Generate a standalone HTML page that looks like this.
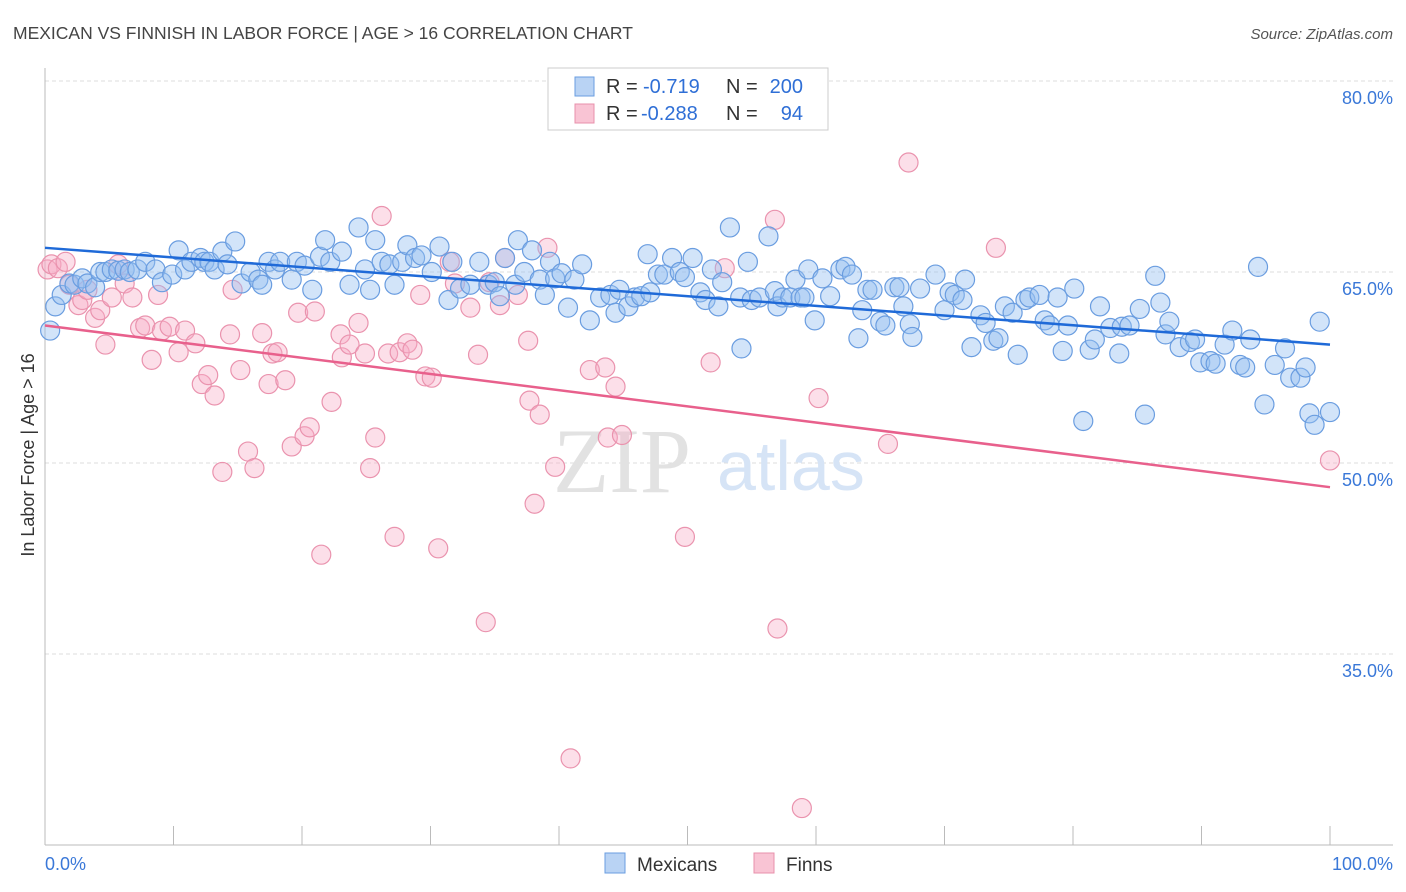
<!DOCTYPE html>
<html><head><meta charset="utf-8"><style>
body{margin:0;background:#fff;font-family:"Liberation Sans",sans-serif;}
svg{display:block}
</style></head><body>
<svg id="chart" width="1406" height="892" viewBox="0 0 1406 892">
<text x="13" y="39" font-size="17.5" fill="#444">MEXICAN VS FINNISH IN LABOR FORCE | AGE &gt; 16 CORRELATION CHART</text>
<text x="1393" y="39" font-size="15" fill="#555" font-style="italic" text-anchor="end">Source: ZipAtlas.com</text>
<g id="grid"></g>
<g>
<text x="553" y="492" font-family="Liberation Serif,serif" font-size="92" fill="#e2e2e2">ZIP</text>
<text x="717" y="490" font-size="70" fill="#d6e4f6">atlas</text>
</g>
<line x1="45" y1="68" x2="45" y2="845" stroke="#bbb"/>
<line x1="45" y1="845" x2="1393" y2="845" stroke="#bbb"/>
<g id="xticks"></g>
<g id="ylabels"></g>
<text transform="translate(34,455) rotate(-90)" font-size="18" fill="#333" text-anchor="middle">In Labor Force | Age &gt; 16</text>
<text x="45" y="870" font-size="18" fill="#3a78d8">0.0%</text>
<text x="1393" y="870" font-size="18" fill="#3a78d8" text-anchor="end">100.0%</text>
<g id="pinkPts"></g>
<g id="bluePts"></g>
<g id="trends"></g>
<g>
<rect x="548" y="68" width="280" height="62" fill="#fff" stroke="#ccc"/>
<rect x="575" y="77" width="19" height="19" fill="#b9d3f4" stroke="#6a9ee0"/>
<rect x="575" y="104" width="19" height="19" fill="#f9c4d4" stroke="#e890ab"/>
<text x="606" y="93" font-size="20" fill="#333">R =</text>
<text x="643" y="93" font-size="20" fill="#2f6fd6">-0.719</text>
<text x="726" y="93" font-size="20" fill="#333">N =</text>
<text x="803" y="93" font-size="20" fill="#2f6fd6" text-anchor="end">200</text>
<text x="606" y="120" font-size="20" fill="#333">R =</text>
<text x="641" y="120" font-size="20" fill="#2f6fd6">-0.288</text>
<text x="726" y="120" font-size="20" fill="#333">N =</text>
<text x="803" y="120" font-size="20" fill="#2f6fd6" text-anchor="end">94</text>
</g>
<g>
<rect x="605" y="853" width="20" height="20" fill="#b9d3f4" stroke="#6a9ee0"/>
<text x="637" y="871" font-size="19" fill="#333">Mexicans</text>
<rect x="754" y="853" width="20" height="20" fill="#f9c4d4" stroke="#e890ab"/>
<text x="786" y="871" font-size="19" fill="#333">Finns</text>
</g>
</svg>
<script>
const yTicks=[80,65,50,35];
const yTickLabels=["80.0%","65.0%","50.0%","35.0%"];
const xTicks=[0,10,20,30,40,50,60,70,80,90,100];
const mexX=[0.4,0.8,1.3,1.9,2.3,2.9,3.3,3.9,4.3,4.7,5.2,5.7,6.2,6.6,7.2,7.8,8.6,9.1,9.9,10.4,10.9,11.4,12.1,12.4,12.8,13.2,13.8,14.2,14.8,15.3,16.0,16.6,16.9,17.4,17.9,18.3,19.2,19.6,20.2,20.8,21.4,21.8,22.2,23.1,23.7,24.4,24.9,25.3,25.7,26.2,26.8,27.2,27.8,28.2,28.8,29.3,30.1,30.7,31.4,31.7,32.3,33.1,33.8,34.5,35.0,35.4,35.8,36.6,36.8,37.3,37.9,38.5,38.9,39.3,39.7,40.2,40.7,41.2,41.8,42.4,43.2,44.0,44.4,44.7,45.4,45.9,46.4,46.9,47.1,47.7,48.2,48.8,49.4,49.8,50.4,51.0,51.4,51.9,52.4,52.7,53.3,54.1,54.2,54.7,55.0,55.6,56.3,56.8,57.0,57.4,58.0,58.4,58.8,59.1,59.4,59.9,60.5,61.1,61.9,62.3,62.8,63.3,63.6,64.0,64.4,65.0,65.4,66.1,66.5,66.8,67.3,67.5,68.1,69.3,70.0,70.4,70.8,71.4,71.6,72.1,72.8,73.2,73.8,74.2,74.7,75.3,75.7,76.3,76.6,77.4,77.8,78.2,78.8,79.2,79.6,80.1,80.8,81.3,81.7,82.1,82.9,83.6,83.8,84.4,85.2,85.6,86.4,86.8,87.2,87.5,88.3,89.1,89.5,89.9,90.7,91.1,91.8,92.4,93.0,93.4,93.8,94.4,94.9,95.7,96.5,96.9,97.7,98.1,98.4,98.8,99.2,100];
const mexY=[60.4,62.3,63.2,64.1,64.0,64.5,64.1,63.8,65.0,65.0,65.2,65.1,65.2,65.0,65.2,65.8,65.2,64.2,64.8,66.7,65.2,65.8,66.1,65.8,65.8,65.2,66.6,65.6,67.4,64.1,65.0,64.4,64.0,65.8,65.2,65.8,64.4,65.8,65.5,63.6,66.2,67.5,65.8,66.6,64.0,68.5,65.2,63.6,67.5,65.8,65.6,64.0,65.8,67.1,66.1,66.3,65.0,67.0,62.8,65.8,63.7,64.0,65.8,64.0,64.2,63.1,66.1,64.0,67.5,65.0,66.7,64.4,63.2,65.8,64.5,64.9,62.2,64.4,65.6,61.2,63.0,63.2,61.8,63.6,62.3,63.0,63.1,66.4,63.4,64.8,64.8,66.1,65.0,64.6,66.1,63.4,62.8,65.2,62.3,64.2,68.5,63.0,59.0,65.8,62.8,63.0,67.8,63.5,62.3,63.0,63.0,64.4,63.0,63.0,65.2,61.2,64.5,63.1,65.2,65.4,64.8,59.8,62.0,63.6,63.6,61.1,60.8,63.8,63.8,62.3,60.9,59.9,63.7,64.8,62.0,63.4,63.2,62.8,64.4,59.1,61.6,61.0,59.6,59.8,62.3,61.8,58.5,62.8,63.0,63.2,61.2,60.8,63.0,58.8,60.8,63.7,53.3,58.9,59.7,62.3,60.6,58.6,60.7,60.8,62.1,53.8,64.7,62.6,60.1,61.1,59.1,59.5,59.7,57.9,58.0,57.8,59.3,60.4,57.7,57.5,59.7,65.4,54.6,57.7,59.0,56.7,56.7,57.5,53.9,53.0,61.1,54.0];
const finX=[0.2,0.5,1.0,1.6,1.9,2.6,2.9,3.3,3.9,4.3,4.7,5.2,5.7,6.2,6.8,7.4,7.8,8.3,8.8,9.1,9.7,10.4,10.9,11.7,12.2,12.7,13.2,13.8,14.4,14.6,15.2,15.8,16.3,16.9,17.4,17.7,18.1,18.7,19.2,19.7,20.2,20.6,21.0,21.5,22.3,23.0,23.1,23.7,24.4,24.9,25.3,25.7,26.2,26.7,27.2,27.6,28.2,28.6,29.2,29.6,30.1,30.6,31.5,31.9,33.1,33.7,34.3,34.6,35.4,35.8,36.8,37.6,37.7,38.1,38.5,39.1,39.7,40.9,42.4,43.6,43.8,44.4,44.9,49.8,51.8,52.9,56.8,57.0,58.9,60.2,65.6,67.2,74.0,100];
const finY=[65.2,65.6,65.3,65.8,64.0,62.4,62.8,63.6,61.4,62.0,59.3,63.0,65.6,64.1,63.0,60.6,60.8,58.1,63.2,60.4,60.7,58.7,60.4,59.4,56.2,56.9,55.3,49.3,60.1,63.6,57.3,50.9,49.6,60.2,56.2,58.6,58.7,56.5,51.3,61.8,52.1,52.8,61.9,42.8,54.8,60.1,58.3,59.3,61.0,58.6,49.6,52.0,69.4,58.6,44.2,58.7,59.4,58.9,63.2,56.8,56.7,43.3,65.8,64.1,62.2,58.5,37.5,64.2,62.4,66.1,63.2,59.6,54.9,46.8,53.8,66.9,49.7,26.8,57.3,57.5,52.0,56.0,52.2,44.2,57.9,65.3,69.1,37.0,22.9,55.1,51.5,73.6,66.9,50.2];
const mexTrend=[66.9,59.3];
const finTrend=[60.8,48.1];

const NS="http://www.w3.org/2000/svg";
const sx=v=>45+v*12.85;
const sy=v=>463-(v-50)*12.733;
function mk(tag,attrs,parent){const e=document.createElementNS(NS,tag);for(const k in attrs)e.setAttribute(k,attrs[k]);parent.appendChild(e);return e;}
const grid=document.getElementById('grid'),yl=document.getElementById('ylabels'),xt=document.getElementById('xticks');
yTicks.forEach((t,i)=>{
  const l=mk('line',{x1:45,x2:1393,y1:sy(t),y2:sy(t),stroke:'#ddd','stroke-dasharray':'4,3'},grid);
  
  
  const tx=mk('text',{x:1393,y:sy(t)+23,'font-size':18,fill:'#3a78d8','text-anchor':'end'},yl);
  tx.textContent=yTickLabels[i];
  
  
});
xTicks.forEach(t=>{
  const l=mk('line',{x1:sx(t),x2:sx(t),y1:826,y2:845,stroke:'#bbb'},xt);
  
  
});
const pg=document.getElementById('pinkPts');
finX.forEach((x,i)=>{
  const c=mk('circle',{cx:sx(x),cy:sy(finY[i]),r:9.5,fill:'rgba(246,172,196,0.38)',stroke:'#ea93ae','stroke-width':1.2},pg);
  
  
});
const bg=document.getElementById('bluePts');
mexX.forEach((x,i)=>{
  const c=mk('circle',{cx:sx(x),cy:sy(mexY[i]),r:9.5,fill:'rgba(148,190,240,0.42)',stroke:'#6a9de0','stroke-width':1.2},bg);
  
  
});
const tg=document.getElementById('trends');
const t1=mk('line',{x1:sx(0),y1:sy(mexTrend[0]),x2:sx(100),y2:sy(mexTrend[1]),stroke:'#1f6ad8','stroke-width':2.5},tg);


const t2=mk('line',{x1:sx(0),y1:sy(finTrend[0]),x2:sx(100),y2:sy(finTrend[1]),stroke:'#e8608c','stroke-width':2.5},tg);


</script>
</body></html>
